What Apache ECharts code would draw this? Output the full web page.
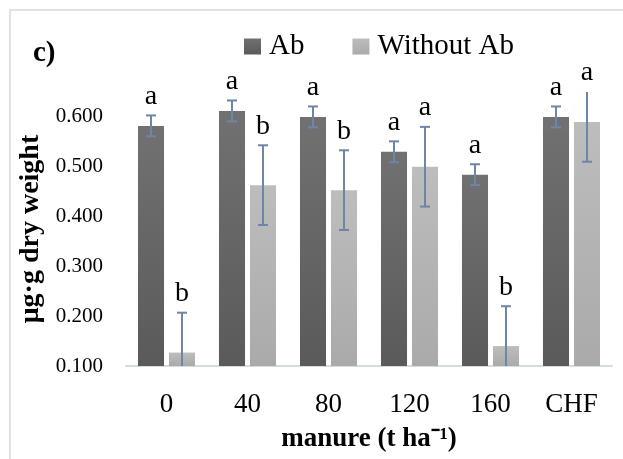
<!DOCTYPE html>
<html>
<head>
<meta charset="utf-8">
<script src="https://cdn.jsdelivr.net/npm/echarts@6/dist/echarts.min.js"></script>
<style>
  html, body { margin: 0; padding: 0; background: #fff; }
  #chart { width: 623px; height: 459px; }
</style>
</head>
<body>
<div id="chart"></div>
<script>
// Manure rate categories and mean values (µg·g dry weight)
const categories = ['0', '40', '80', '120', '160', 'CHF'];
const abValues = [0.582, 0.612, 0.600, 0.530, 0.484, 0.600];
const withoutAbValues = [0.127, 0.463, 0.453, 0.500, 0.140, 0.590];
// Error bar half-widths
const abErrors = [0.021, 0.021, 0.021, 0.021, 0.021, 0.021];
const withoutAbErrors = [0.08, 0.08, 0.08, 0.08, 0.08, 0.08];
// Significance letters
const abLetters = ['a', 'a', 'a', 'a', 'a', 'a'];
const withoutAbLetters = ['b', 'b', 'b', 'a', 'b', 'a'];
// Value axis range
const yMin = 0.1;
const yMax = 0.65;
const yStep = 0.1;

const FONT = '"Liberation Serif", "Times New Roman", serif';
const BAR_CATEGORY_GAP = 0.296;
const BAR_GAP = 0.19;
const ERR_COLOR = '#6e86a6';

const abColor = new echarts.graphic.LinearGradient(0, 0, 0, 1, [
  { offset: 0, color: '#717171' },
  { offset: 1, color: '#5a5a5a' }
]);
const withoutColor = new echarts.graphic.LinearGradient(0, 0, 0, 1, [
  { offset: 0, color: '#bdbdbd' },
  { offset: 1, color: '#aaaaaa' }
]);

// Error bar + letter overlay for one bar series; side = -1 (left bar) or +1 (right bar)
function errorSeries(values, errors, letters, side) {
  return {
    type: 'custom',
    silent: true,
    z: 5,
    data: values.map((v, i) => [i, v, errors[i]]),
    renderItem: function (params, api) {
      const i = api.value(0);
      const v = api.value(1);
      const e = api.value(2);
      const cs = params.coordSys;
      const band = api.size([1, 0])[0];
      const barW = band * (1 - BAR_CATEGORY_GAP) / (2 + BAR_GAP);
      const dx = side * (barW + barW * BAR_GAP) / 2;
      const top = api.coord([i, v + e]);
      const bot = api.coord([i, v - e]);
      const x = top[0] + dx;
      const yTopRaw = top[1];
      const yBotRaw = bot[1];
      const yTop = Math.max(yTopRaw, cs.y);
      const yBot = Math.min(yBotRaw, cs.y + cs.height);
      const capHalf = 5;
      const style = { stroke: ERR_COLOR, lineWidth: 2 };
      const children = [
        { type: 'line', shape: { x1: x, y1: yTop, x2: x, y2: yBot }, style: style }
      ];
      if (yTopRaw >= cs.y) {
        children.push({ type: 'line', shape: { x1: x - capHalf, y1: yTop, x2: x + capHalf, y2: yTop }, style: style });
      }
      if (yBotRaw <= cs.y + cs.height) {
        children.push({ type: 'line', shape: { x1: x - capHalf, y1: yBot, x2: x + capHalf, y2: yBot }, style: style });
      }
      children.push({
        type: 'text',
        style: {
          text: letters[i],
          x: x,
          y: yTop - 19,
          align: 'center',
          verticalAlign: 'middle',
          font: '28px ' + FONT,
          fill: '#000'
        }
      });
      return { type: 'group', children: children };
    }
  };
}

const chart = echarts.init(document.getElementById('chart'), null, { renderer: 'canvas' });

chart.setOption({
  animation: false,
  backgroundColor: '#fff',
  textStyle: { fontFamily: FONT, color: '#000' },
  graphic: [
    {
      type: 'rect',
      shape: { x: 10, y: 10, width: 700, height: 520 },
      style: { fill: 'none', stroke: '#dde1e8', lineWidth: 2 },
      silent: true
    },
    {
      type: 'text',
      left: 33,
      top: 39,
      style: { text: 'c)', font: 'bold 29px ' + FONT, fill: '#000' }
    }
  ],
  legend: {
    left: 244,
    top: 32,
    padding: 0,
    icon: 'rect',
    itemWidth: 17,
    itemHeight: 16,
    itemGap: 48,
    textStyle: { fontFamily: FONT, fontSize: 29, color: '#000', padding: [0, 0, 0, 3] },
    data: ['Ab', 'Without Ab']
  },
  grid: { left: 126, right: 11, top: 92, bottom: 93, outerBoundsMode: 'none', containLabel: false },
  xAxis: {
    type: 'category',
    data: categories,
    axisLine: { lineStyle: { color: '#d6dbe3', width: 2 } },
    axisTick: { show: false },
    axisLabel: { fontFamily: FONT, fontSize: 27, color: '#000', margin: 25 },
    name: 'manure (t ha\u207B\u00B9)',
    nameLocation: 'middle',
    nameGap: 60,
    nameTextStyle: { fontFamily: FONT, fontSize: 27, fontWeight: 'bold', color: '#000' }
  },
  yAxis: {
    type: 'value',
    min: yMin,
    max: yMax,
    interval: yStep,
    splitLine: { show: false },
    axisLine: { show: false },
    axisTick: { show: false },
    axisLabel: {
      fontFamily: FONT,
      fontSize: 21,
      color: '#000',
      margin: 23,
      formatter: function (v) { return v > 0.6 + 1e-9 ? '' : v.toFixed(3); }
    },
    name: '\u03BCg\u00B7g dry weight',
    nameLocation: 'middle',
    nameGap: 68,
    nameTextStyle: { fontFamily: FONT, fontSize: 28, fontWeight: 'bold', color: '#000' }
  },
  series: [
    {
      name: 'Ab',
      type: 'bar',
      data: abValues,
      barGap: (BAR_GAP * 100) + '%',
      barCategoryGap: (BAR_CATEGORY_GAP * 100) + '%',
      itemStyle: { color: abColor }
    },
    {
      name: 'Without Ab',
      type: 'bar',
      data: withoutAbValues,
      itemStyle: { color: withoutColor }
    },
    errorSeries(abValues, abErrors, abLetters, -1),
    errorSeries(withoutAbValues, withoutAbErrors, withoutAbLetters, 1)
  ]
});
</script>
</body>
</html>
